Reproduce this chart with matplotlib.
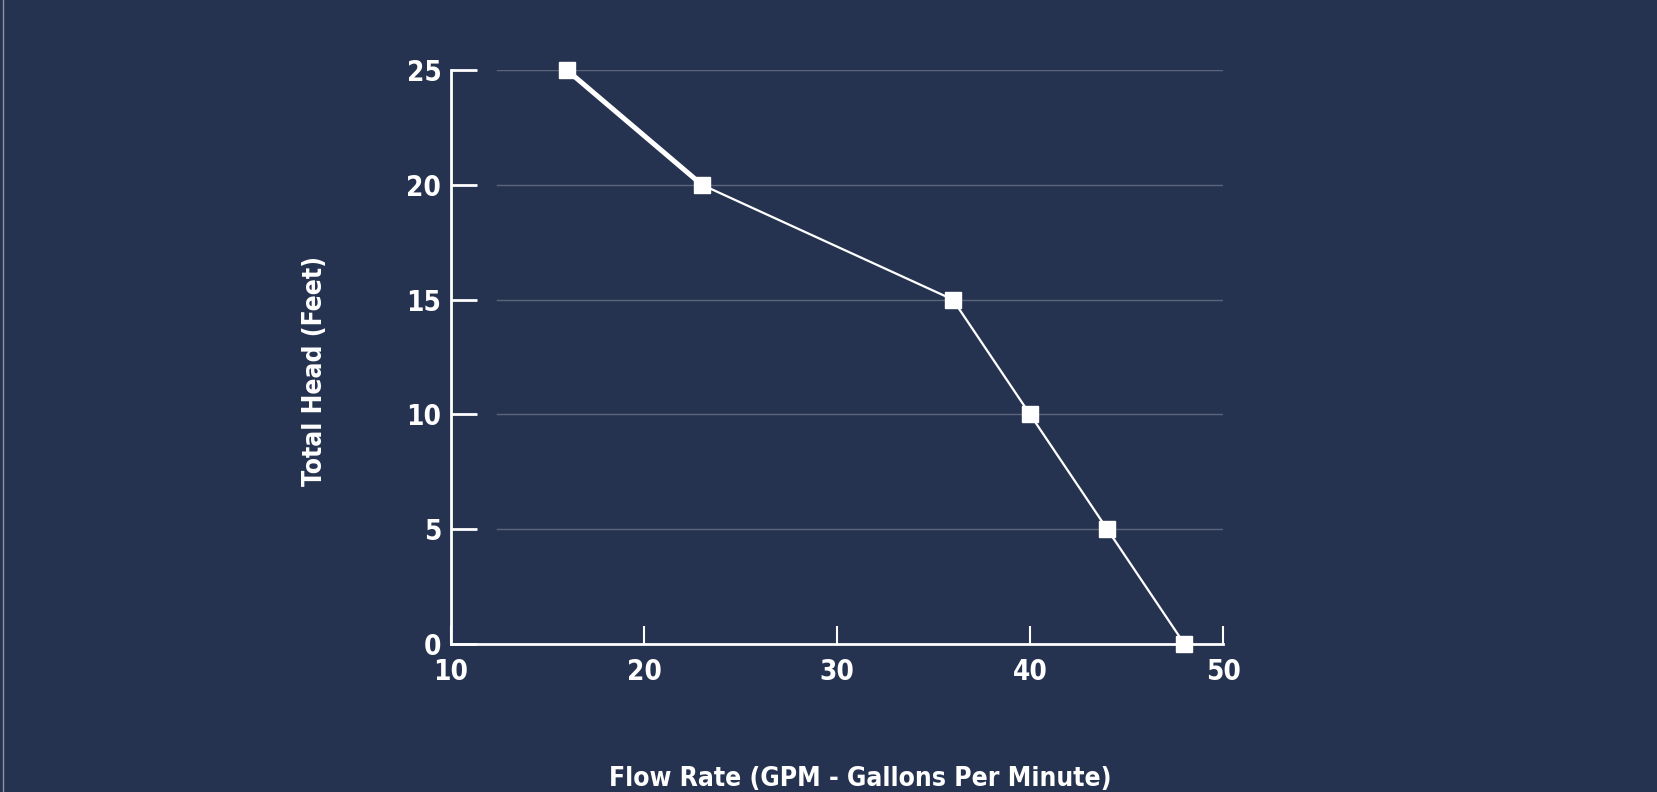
import matplotlib
matplotlib.use("Agg")
import matplotlib.pyplot as plt
from matplotlib.lines import Line2D

# pump curve readings
flow = [16, 23, 36, 40, 44, 48]
head = [25, 20, 15, 10, 5, 0]
x_ticks = [10, 20, 30, 40, 50]
y_ticks = [0, 5, 10, 15, 20, 25]

bg = "#263350"
grid_col = "#5b6579"

plt.rcParams["font.family"] = ["DejaVu Sans"]
plt.rcParams["font.stretch"] = "condensed"
plt.rcParams["font.weight"] = "bold"

fig = plt.figure(figsize=(16.57, 7.92), dpi=100, facecolor=bg)
ax = fig.add_axes([0.2722, 0.1869, 0.4659, 0.7247], facecolor=bg)

ax.set_xlim(10, 50)
ax.set_ylim(0, 25)

for y in y_ticks[1:]:
    ax.axhline(y, xmin=0.06, xmax=1, color=grid_col, lw=1, zorder=1)

# first segment is drawn heavier
ax.plot(flow[:2], head[:2], color="white", lw=3.6, zorder=3, clip_on=False)
ax.plot(flow[1:], head[1:], color="white", lw=1.6, zorder=3, clip_on=False)
ax.plot(flow, head, ls="none", marker="s", ms=12, color="white",
        zorder=4, clip_on=False)

for s in ["top", "right"]:
    ax.spines[s].set_visible(False)
for s in ["left", "bottom"]:
    ax.spines[s].set_color("white")
    ax.spines[s].set_linewidth(2)

ax.set_xticks(x_ticks)
ax.set_yticks(y_ticks)
ax.tick_params(axis="y", direction="in", length=19, width=2, color="white",
               labelcolor="white", labelsize=20, pad=7)
ax.tick_params(axis="x", direction="in", length=13, width=1.5, color="white",
               labelcolor="white", labelsize=20, pad=10)

fig.text(0.19, 0.532, "Total Head (Feet)", rotation=90, color="white",
         fontsize=19, ha="center", va="center")
fig.text(0.519, 0.017, "Flow Rate (GPM - Gallons Per Minute)", color="white",
         fontsize=19, ha="center", va="center")

fig.add_artist(Line2D([0.0018, 0.0018], [0, 1], color="#8a92a3", lw=1,
                      transform=fig.transFigure))

fig.savefig("out.png", dpi=100, facecolor=bg)
